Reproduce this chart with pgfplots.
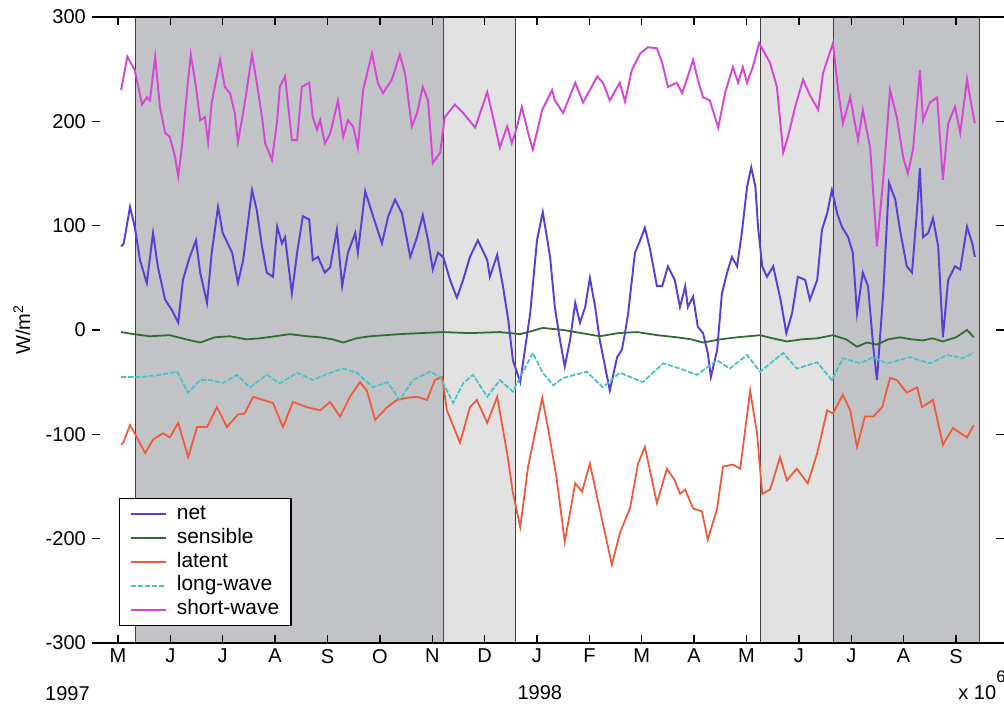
\documentclass[border=0pt]{standalone}
\usepackage{fontspec}
\setmainfont{Liberation Sans}
\usepackage{pgfplots}
\pgfplotsset{compat=1.18}

\definecolor{cnet}{HTML}{5B3CD6}
\definecolor{csens}{HTML}{2E6B2E}
\definecolor{clat}{HTML}{F0583A}
\definecolor{clw}{HTML}{45C3C6}
\definecolor{csw}{HTML}{D646D6}
\definecolor{shdark}{HTML}{C1C3C6}
\definecolor{shlight}{HTML}{E2E2E2}

\newcommand{\lblfont}{\fontsize{11.4}{13.7}\selectfont}
\newcommand{\legfont}{\fontsize{11.9}{14}\selectfont}

\begin{document}
\begin{tikzpicture}
\begin{axis}[
  name=ax,
  scale only axis, width=18.24cm, height=12.52cm,
  xmin=-0.496, xmax=16.916, ymin=-300, ymax=300,
  xtick={0,...,16},
  xticklabels={M,J,J,A,S,O,N,D,J,F,M,A,M,J,J,A,S},
  ytick={-300,-200,-100,0,100,200,300},
  yticklabels={-300,-200,-100,0,100,200,300},
  tick align=inside, major tick length=0.16cm,
  tick style={black, line width=0.8pt},
  separate axis lines,
  x axis line style={black, line width=1pt},
  y axis line style={draw=none},
  axis on top,
  clip=false,
  ticklabel style={font=\lblfont},
  ylabel={W/m\textsuperscript{2}},
  ylabel style={at={(rel axis cs:-0.077,0.5)}, anchor=center, font=\lblfont},
  legend cell align=left,
  legend image code/.code={\draw[#1] (0cm,0cm) -- (0.7cm,0cm);},
  legend style={at={(rel axis cs:0.0296,0.0272)}, anchor=south west,
    draw=black, line width=0.8pt, fill=white, font=\legfont,
    inner xsep=0.2cm, inner ysep=2pt, row sep=0pt,
    nodes={inner sep=1pt, text height=8.7pt, text depth=2.9pt},
    /tikz/every odd column/.append style={column sep=0.17cm}},
]
% seasonal shading
\addplot[fill=shdark, draw=none, forget plot] coordinates {(0.325,-300) (0.325,300) (6.205,300) (6.205,-300)};
\addplot[fill=shlight, draw=none, forget plot] coordinates {(6.205,-300) (6.205,300) (7.58,300) (7.58,-300)};
\addplot[fill=shlight, draw=none, forget plot] coordinates {(12.26,-300) (12.26,300) (13.65,300) (13.65,-300)};
\addplot[fill=shdark, draw=none, forget plot] coordinates {(13.65,-300) (13.65,300) (16.44,300) (16.44,-300)};
\addplot[black!75, line width=0.45pt, forget plot] coordinates {(0.325,-300) (0.325,300)};
\addplot[black!75, line width=0.45pt, forget plot] coordinates {(6.205,-300) (6.205,300)};
\addplot[black!75, line width=0.45pt, forget plot] coordinates {(7.58,-300) (7.58,300)};
\addplot[black!75, line width=0.45pt, forget plot] coordinates {(12.26,-300) (12.26,300)};
\addplot[black!75, line width=0.45pt, forget plot] coordinates {(13.65,-300) (13.65,300)};
\addplot[black!75, line width=0.45pt, forget plot] coordinates {(16.44,-300) (16.44,300)};

% net
\addplot[cnet, line width=1.1pt] coordinates {
(0.06,80)(0.11,83)(0.23,118)(0.32,99)(0.42,67)(0.55,45)(0.67,93)(0.76,61)(0.90,29)(1.03,19)(1.15,7)(1.24,48)(1.37,70)(1.49,86)(1.57,55)(1.70,26)(1.79,74)(1.91,118)(2.00,93)(2.18,74)(2.29,45)(2.39,67)(2.56,134)(2.65,115)(2.75,80)(2.84,55)(2.96,51)(3.04,99)(3.13,83)(3.19,89)(3.32,35)(3.42,74)(3.53,109)(3.65,106)(3.72,67)(3.82,70)(3.95,55)(4.05,60)(4.18,96)(4.28,42)(4.39,74)(4.53,93)(4.58,74)(4.72,133)(4.87,109)(5.04,83)(5.16,109)(5.29,125)(5.42,112)(5.58,70)(5.71,89)(5.82,110)(5.92,86)(6.01,58)(6.11,74)(6.21,70)(6.34,48)(6.47,31)(6.59,48)(6.72,70)(6.87,86)(7.05,67)(7.10,51)(7.24,72)(7.35,42)(7.45,10)(7.54,-29)(7.68,-50)(7.87,16)(8.00,86)(8.11,113)(8.25,70)(8.34,22)(8.44,-10)(8.53,-35)(8.63,-10)(8.73,26)(8.82,7)(8.92,22)(9.01,50)(9.11,22)(9.20,-10)(9.39,-58)(9.53,-26)(9.62,-19)(9.68,-3)(9.74,16)(9.87,74)(9.97,86)(10.06,98)(10.16,77)(10.29,42)(10.39,42)(10.50,61)(10.63,48)(10.73,22)(10.83,42)(10.88,22)(10.98,32)(11.07,3)(11.17,-3)(11.26,-22)(11.32,-45)(11.44,-19)(11.53,35)(11.63,55)(11.72,70)(11.82,61)(11.91,93)(12.01,137)(12.09,156)(12.17,137)(12.22,99)(12.30,61)(12.39,51)(12.51,61)(12.65,29)(12.76,-3)(12.87,16)(12.98,51)(13.12,48)(13.21,29)(13.35,48)(13.44,96)(13.54,112)(13.63,134)(13.73,112)(13.82,99)(13.94,89)(14.03,74)(14.11,16)(14.22,55)(14.32,42)(14.42,-16)(14.49,-48)(14.61,35)(14.72,141)(14.84,125)(14.93,96)(15.06,61)(15.16,55)(15.26,118)(15.31,155)(15.37,89)(15.47,93)(15.56,107)(15.66,80)(15.75,-7)(15.85,48)(15.98,61)(16.08,58)(16.21,99)(16.31,83)(16.36,70)
};
\addlegendentry{net}

% sensible
\addplot[csens, line width=1pt] coordinates {
(0.06,-2)(0.30,-4)(0.61,-6)(0.99,-5)(1.30,-9)(1.57,-12)(1.85,-7)(2.14,-6)(2.45,-9)(2.71,-8)(3.00,-6)(3.28,-4)(3.60,-6)(3.86,-7)(4.10,-9)(4.30,-12)(4.55,-8)(4.81,-6)(5.10,-5)(5.38,-4)(5.77,-3)(6.21,-2)(6.72,-3)(7.29,-2)(7.68,-4)(7.90,-1)(8.11,2)(8.50,0)(8.85,-3)(9.20,-6)(9.55,-3)(9.91,-2)(10.30,-5)(10.67,-7)(10.95,-9)(11.17,-12)(11.50,-9)(11.82,-7)(12.26,-5)(12.50,-8)(12.77,-11)(13.05,-9)(13.35,-8)(13.65,-5)(13.90,-9)(14.11,-16)(14.30,-12)(14.49,-14)(14.70,-9)(14.93,-7)(15.15,-9)(15.37,-10)(15.55,-8)(15.75,-11)(16.00,-7)(16.21,0)(16.34,-7)
};
\addlegendentry{sensible}

% latent
\addplot[clat, line width=1pt] coordinates {
(0.06,-110)(0.10,-108)(0.23,-91)(0.36,-103)(0.52,-118)(0.67,-105)(0.86,-99)(0.99,-103)(1.15,-89)(1.34,-122)(1.51,-93)(1.70,-93)(1.89,-74)(2.08,-93)(2.29,-81)(2.42,-80)(2.58,-64)(2.77,-67)(2.96,-70)(3.15,-93)(3.34,-69)(3.61,-74)(3.86,-77)(4.05,-69)(4.24,-83)(4.43,-64)(4.62,-50)(4.75,-58)(4.91,-86)(5.14,-74)(5.33,-67)(5.52,-65)(5.71,-64)(5.90,-67)(6.05,-48)(6.19,-45)(6.28,-77)(6.53,-108)(6.72,-74)(6.85,-67)(7.05,-89)(7.24,-64)(7.43,-118)(7.54,-156)(7.68,-189)(7.83,-131)(8.10,-65)(8.25,-105)(8.38,-144)(8.53,-203)(8.73,-147)(8.86,-155)(9.01,-128)(9.16,-163)(9.43,-225)(9.58,-195)(9.78,-170)(9.93,-128)(10.06,-112)(10.29,-166)(10.48,-133)(10.63,-144)(10.73,-157)(10.83,-153)(10.98,-171)(11.15,-174)(11.26,-201)(11.44,-171)(11.55,-131)(11.74,-129)(11.88,-133)(12.07,-58)(12.20,-99)(12.30,-157)(12.45,-153)(12.64,-122)(12.77,-144)(12.96,-133)(13.17,-147)(13.35,-118)(13.54,-77)(13.65,-80)(13.84,-62)(13.98,-77)(14.11,-112)(14.26,-83)(14.42,-83)(14.59,-74)(14.74,-46)(14.87,-48)(15.06,-60)(15.26,-55)(15.35,-74)(15.56,-67)(15.75,-110)(15.94,-94)(16.21,-103)(16.34,-91)
};
\addlegendentry{latent}

% long-wave
\addplot[clw, line width=1pt, dash pattern=on 3pt off 1pt] coordinates {
(0.06,-45)(0.48,-45)(0.80,-43)(1.13,-40)(1.34,-60)(1.57,-48)(1.76,-48)(2.00,-51)(2.27,-43)(2.52,-55)(2.84,-43)(3.09,-51)(3.42,-41)(3.72,-48)(4.00,-42)(4.30,-37)(4.56,-41)(4.87,-55)(5.14,-50)(5.38,-67)(5.63,-48)(5.96,-40)(6.15,-45)(6.40,-70)(6.59,-51)(6.78,-43)(7.05,-64)(7.29,-48)(7.54,-59)(7.92,-22)(8.11,-41)(8.31,-53)(8.50,-46)(8.95,-40)(9.26,-55)(9.58,-41)(10.02,-50)(10.41,-32)(10.73,-37)(11.05,-43)(11.44,-29)(11.68,-37)(12.01,-24)(12.26,-40)(12.70,-22)(12.96,-37)(13.35,-31)(13.63,-48)(13.84,-27)(14.17,-32)(14.42,-26)(14.68,-32)(15.12,-26)(15.50,-32)(15.83,-24)(16.13,-27)(16.34,-22)
};
\addlegendentry{long-wave}

% short-wave
\addplot[csw, line width=1.1pt] coordinates {
(0.06,230)(0.18,262)(0.32,249)(0.46,216)(0.55,223)(0.61,220)(0.71,262)(0.80,214)(0.90,189)(0.99,185)(1.09,166)(1.15,147)(1.22,175)(1.32,230)(1.39,264)(1.49,233)(1.57,201)(1.66,204)(1.72,180)(1.79,218)(1.95,259)(2.04,233)(2.14,227)(2.23,208)(2.29,180)(2.39,208)(2.56,264)(2.65,237)(2.75,204)(2.81,179)(2.94,163)(3.04,201)(3.09,233)(3.19,243)(3.32,182)(3.42,182)(3.51,233)(3.65,237)(3.72,204)(3.80,192)(3.86,201)(3.95,179)(4.05,188)(4.20,220)(4.30,185)(4.39,201)(4.49,195)(4.58,175)(4.68,230)(4.85,265)(4.96,237)(5.06,227)(5.23,240)(5.38,264)(5.48,246)(5.61,195)(5.71,208)(5.82,233)(5.92,220)(6.01,160)(6.15,170)(6.24,204)(6.43,216)(6.59,208)(6.82,194)(7.05,228)(7.16,204)(7.29,175)(7.43,195)(7.52,179)(7.62,195)(7.71,214)(7.83,189)(7.92,173)(8.10,211)(8.29,230)(8.34,220)(8.50,208)(8.73,237)(8.88,218)(9.15,243)(9.26,237)(9.39,220)(9.58,237)(9.68,219)(9.81,249)(9.97,265)(10.12,271)(10.29,270)(10.39,256)(10.50,233)(10.67,237)(10.77,227)(10.86,240)(10.98,259)(11.07,240)(11.17,223)(11.30,220)(11.46,194)(11.59,227)(11.74,252)(11.84,237)(11.93,252)(12.01,237)(12.12,252)(12.24,275)(12.45,256)(12.58,233)(12.70,170)(12.79,185)(12.93,214)(13.08,240)(13.21,225)(13.37,211)(13.46,246)(13.65,275)(13.75,230)(13.84,198)(13.98,223)(14.13,182)(14.22,211)(14.36,175)(14.49,80)(14.61,144)(14.74,230)(14.87,204)(14.99,166)(15.08,150)(15.18,173)(15.31,249)(15.37,201)(15.50,218)(15.64,223)(15.75,144)(15.85,198)(15.98,214)(16.08,189)(16.21,240)(16.31,211)(16.36,198)
};
\addlegendentry{short-wave}

\node[font=\lblfont, anchor=center] at (rel axis cs:-0.0269,-0.0807) {1997};
\node[font=\lblfont, anchor=center] at (rel axis cs:0.491,-0.079) {1998};
\node[font=\lblfont, anchor=base west, inner sep=0pt] at (rel axis cs:0.9496,-0.091) {x 10\raisebox{0.85em}{\fontsize{9.5}{11}\selectfont 6}};
\end{axis}
\path (ax.south west) ++(-1.84cm,-1.22cm) coordinate (bbl);
\path (ax.north east) ++(0cm,0.34cm) coordinate (btr);
\pgfresetboundingbox
\path (bbl) rectangle (btr);
\end{tikzpicture}
\end{document}
